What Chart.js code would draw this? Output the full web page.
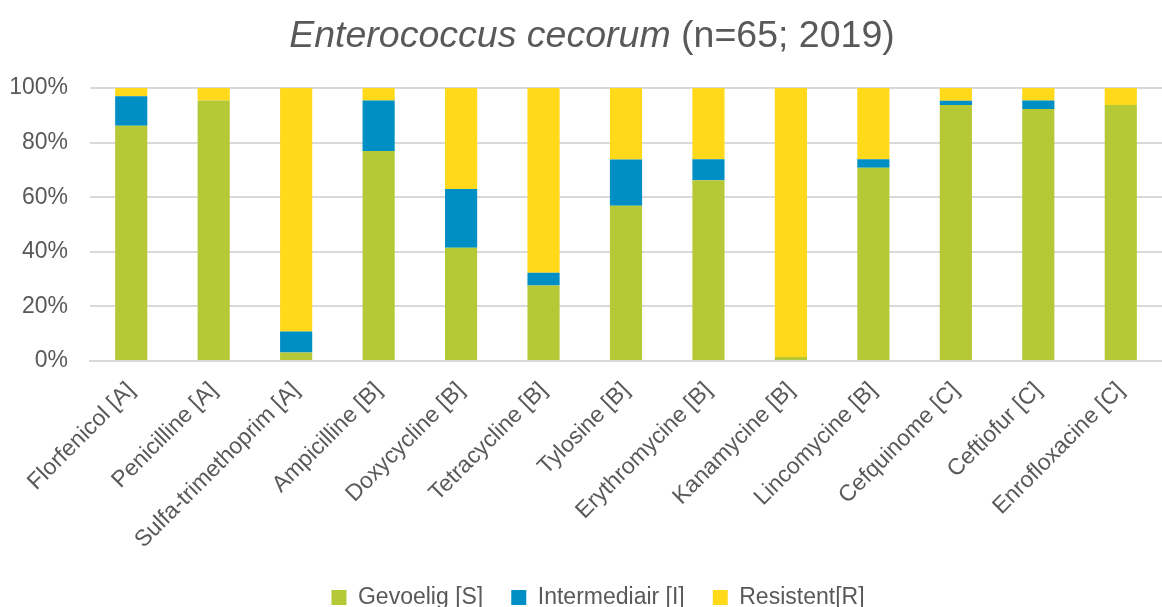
<!DOCTYPE html>
<html>
<head>
<meta charset="utf-8">
<script src="https://cdn.jsdelivr.net/npm/chart.js@4/dist/chart.umd.min.js"></script>
<style>
  html, body { margin: 0; padding: 0; background: #fff; }
  #wrap { position: relative; width: 1162px; height: 607px; }
  #title {
    position: absolute; left: 11px; top: 13px; width: 1162px; text-align: center;
    font-family: "Liberation Sans", Arial, sans-serif; font-size: 37.5px; color: #595959;
  }
</style>
</head>
<body>
<div id="wrap">
  <div id="title"><i>Enterococcus cecorum</i> (n=65; 2019)</div>
  <canvas id="chart" width="1162" height="607"></canvas>
</div>
<script>
const categories = ['Florfenicol [A]', 'Penicilline [A]', 'Sulfa-trimethoprim [A]', 'Ampicilline [B]',
  'Doxycycline [B]', 'Tetracycline [B]', 'Tylosine [B]', 'Erythromycine [B]', 'Kanamycine [B]',
  'Lincomycine [B]', 'Cefquinome [C]', 'Ceftiofur [C]', 'Enrofloxacine [C]'];

// percentages
const gevoelig = [86.2, 95.4, 3.1, 76.9, 41.5, 27.7, 56.9, 66.2, 1.5, 70.8, 93.8, 92.3, 93.8];
const intermediair = [10.8, 0, 7.7, 18.5, 21.5, 4.6, 16.9, 7.7, 0, 3.1, 1.5, 3.1, 0];
const resistent = [3.0, 4.6, 89.2, 4.6, 37.0, 67.7, 26.2, 26.1, 98.5, 26.1, 4.7, 4.6, 6.2];

const yTicks = [0, 20, 40, 60, 80, 100];

const font = "'Liberation Sans', Arial, sans-serif";
const grey = '#595959';

// legend in the original sits a bit right of the canvas centre
const shiftLegend = {
  id: 'shiftLegend',
  beforeDraw(chart) {
    const lg = chart.legend;
    if (lg._shifted) return;
    const draw = lg.draw.bind(lg);
    lg.draw = function () {
      chart.ctx.save();
      chart.ctx.translate(17, 0);
      draw();
      chart.ctx.restore();
    };
    lg._shifted = true;
  },
};

new Chart(document.getElementById('chart'), {
  type: 'bar',
  data: {
    labels: categories,
    datasets: [
      { label: 'Gevoelig [S]', data: gevoelig, backgroundColor: '#b5c936' },
      { label: 'Intermediair [I]', data: intermediair, backgroundColor: '#008fc4' },
      { label: 'Resistent[R]', data: resistent, backgroundColor: '#ffd91a' },
    ],
  },
  plugins: [shiftLegend],
  options: {
    responsive: false,
    animation: false,
    layout: { padding: { top: 88, left: 0, right: 0, bottom: -12 } },
    datasets: { bar: { barPercentage: 0.39, categoryPercentage: 1 } },
    plugins: {
      title: { display: false },
      tooltip: { enabled: false },
      legend: {
        position: 'bottom',
        labels: {
          boxWidth: 15, boxHeight: 15, padding: 28,
          color: grey, font: { family: font, size: 23 },
        },
      },
    },
    scales: {
      x: {
        stacked: true,
        grid: { display: false },
        border: { color: '#d9d9d9', width: 2 },
        afterFit: scale => { scale.height = 197; },
        ticks: {
          color: grey, font: { family: font, size: 23 },
          minRotation: 45, maxRotation: 45, autoSkip: false, padding: 8,
        },
      },
      y: {
        stacked: true,
        min: 0, max: 100,
        afterBuildTicks: axis => { axis.ticks = yTicks.map(v => ({ value: v })); },
        afterFit: scale => { scale.width = 90; },
        grid: { color: '#d9d9d9', lineWidth: 2, drawTicks: false },
        border: { display: false },
        ticks: {
          color: grey, font: { family: font, size: 23 }, padding: 22,
          callback: v => v + '%',
        },
      },
    },
  },
});
</script>
</body>
</html>
